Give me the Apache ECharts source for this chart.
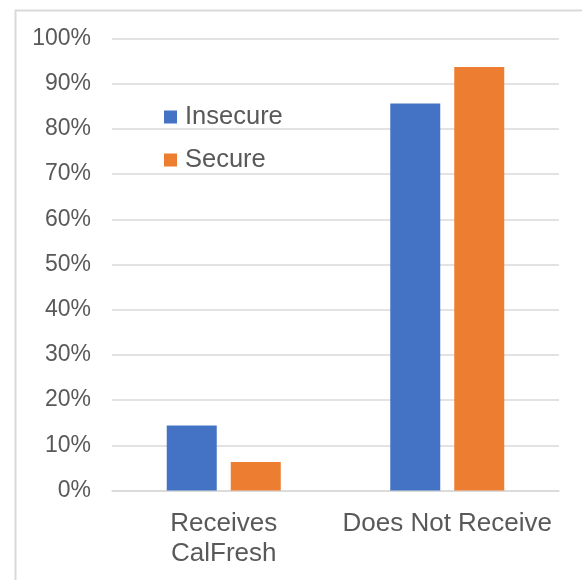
<!DOCTYPE html>
<html>
<head>
<meta charset="utf-8">
<script src="https://cdn.jsdelivr.net/npm/echarts@6/dist/echarts.min.js"></script>
<style>
  html, body { margin: 0; padding: 0; background: #ffffff; }
  #chart { width: 582px; height: 580px; }
</style>
</head>
<body>
<div id="chart"></div>
<script>
// CalFresh receipt by food security status (share of respondents, %)
const categories = ['Receives\nCalFresh', 'Does Not Receive'];
const seriesNames = ['Insecure', 'Secure'];
const insecureValues = [14.4, 85.6];
const secureValues = [6.3, 93.7];
const yTicks = { min: 0, max: 100, interval: 10 };

const TEXT = '#595959';
const GRID_LINE = '#d9d9d9';
const FONT = '"Liberation Sans", Arial, sans-serif';

const chart = echarts.init(document.getElementById('chart'), null, { renderer: 'canvas' });

chart.setOption({
  animation: false,
  backgroundColor: '#ffffff',
  textStyle: { fontFamily: FONT },
  graphic: [{
    type: 'rect',
    left: 13,
    top: 8,
    shape: { x: 0, y: 0, width: 620, height: 620 },
    style: { fill: 'none', stroke: GRID_LINE, lineWidth: 2 },
    silent: true,
    z: -1
  }],
  grid: { left: 112, right: 23, top: 38.5, bottom: 89.5, containLabel: false },
  legend: {
    orient: 'vertical',
    left: 164,
    top: 103,
    padding: 0,
    itemWidth: 13,
    itemHeight: 13,
    itemGap: 15,
    icon: 'rect',
    data: seriesNames,
    textStyle: { color: TEXT, fontSize: 25.5, fontFamily: FONT, lineHeight: 28, padding: [0, 0, 0, 3] }
  },
  xAxis: {
    type: 'category',
    data: categories,
    axisLine: { show: true, lineStyle: { color: GRID_LINE, width: 1.5 } },
    axisTick: { show: false },
    axisLabel: { color: TEXT, fontSize: 26, fontFamily: FONT, lineHeight: 29.5, margin: 19, interval: 0 }
  },
  yAxis: {
    type: 'value',
    min: yTicks.min,
    max: yTicks.max,
    interval: yTicks.interval,
    axisLine: { show: false },
    axisTick: { show: false },
    splitLine: { lineStyle: { color: GRID_LINE, width: 1.5 } },
    axisLabel: { color: TEXT, fontSize: 23, fontFamily: FONT, margin: 21, formatter: '{value}%' }
  },
  series: [
    {
      name: seriesNames[0],
      type: 'bar',
      data: insecureValues,
      barWidth: 50,
      barGap: '28%',
      itemStyle: { color: '#4472c4' }
    },
    {
      name: seriesNames[1],
      type: 'bar',
      data: secureValues,
      barWidth: 50,
      barGap: '28%',
      itemStyle: { color: '#ed7d31' }
    }
  ]
});
</script>
</body>
</html>
